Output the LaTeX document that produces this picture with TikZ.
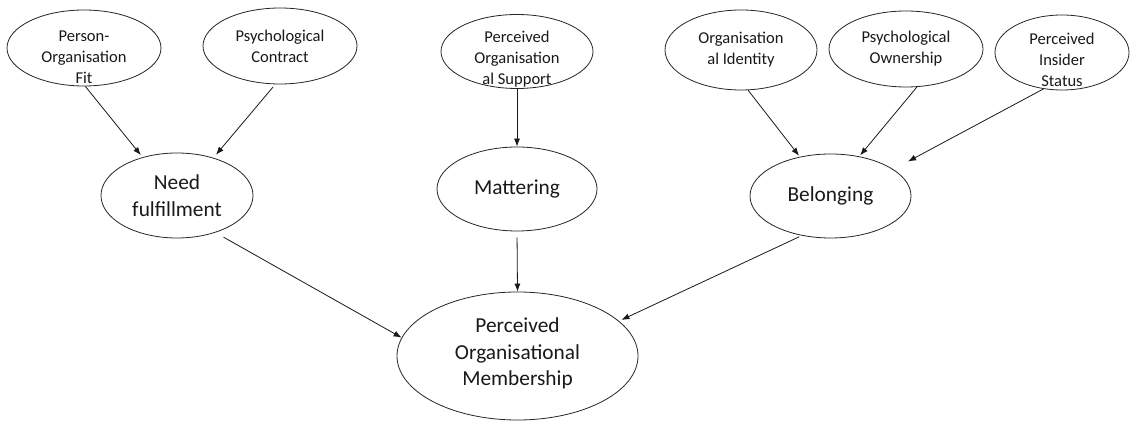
\documentclass[tikz,border=0pt]{standalone}
\usepackage{fontspec}
\setmainfont{Carlito}
\usetikzlibrary{arrows.meta,shapes.geometric}
\begin{document}
\begin{tikzpicture}[x=0.75pt,y=-0.75pt,
  oval/.style={draw=black!85, line width=0.6pt, ellipse, inner sep=0pt},
  radii/.style 2 args={minimum width=#1*1.5pt, minimum height=#2*1.5pt},
  smalltxt/.style={font=\fontsize{12.4}{15.75}\selectfont, align=center, inner sep=0pt, text=black!90},
  bigtxt/.style={font=\fontsize{16}{19.8}\selectfont, align=center, inner sep=0pt, text=black!90},
  arr/.style={draw=black!90, line width=0.6pt, -{Latex[length=6pt,width=4.5pt]}}]

\path[fill=white] (0,0) rectangle (1131,423);
\useasboundingbox (0,0) rectangle (1131,423);

% antecedents (top row)
\node[oval, radii={77}{38},   label={[smalltxt, yshift=-6.75pt]center:{Person-\\Organisation\\Fit}}] (pof) at (84,48) {};
\node[oval, radii={77}{38},   label={[smalltxt]center:{Psychological\\Contract}}] (pc) at (280,46) {};
\node[oval, radii={76}{37},   label={[smalltxt, yshift=-5.6pt]center:{Perceived\\Organisation\\al Support}}] (pos) at (517,51.5) {};
\node[oval, radii={76}{40},   label={[smalltxt]center:{Organisation\\al Identity}}] (oi) at (741,50) {};
\node[oval, radii={77}{38},   label={[smalltxt]center:{Psychological\\Ownership}}] (po) at (906,49) {};
\node[oval, radii={67}{37.5}, label={[smalltxt, yshift=-5.6pt]center:{Perceived\\Insider\\Status}}] (pis) at (1062,52.5) {};

% mediators (middle row)
\node[oval, radii={76}{42.5}, label={[bigtxt]center:{Need\\fulfillment}}] (need) at (177,195.5) {};
\node[oval, radii={80}{42},   label={[bigtxt]center:{Mattering}}] (mat) at (517,189) {};
\node[oval, radii={80.5}{42}, label={[bigtxt]center:{Belonging}}] (bel) at (830.5,196) {};

% outcome
\node[oval, radii={120.5}{64}, label={[bigtxt, yshift=2pt]center:{Perceived\\Organisational\\Membership}}] (mem) at (517.5,356) {};

% antecedents -> mediators
\draw[arr, shorten >=2pt] (pof.-88) -- (need.132);
\draw[arr, shorten <=2.5pt, shorten >=3pt] (pc.-97) -- (need.46);
\draw[arr] (pos.south) -- (mat.north);
\draw[arr, shorten >=1pt] (oi.-80) -- (bel.128);
\draw[arr, shorten >=1pt] (po.-74) -- (bel.54);
\draw[arr, shorten >=12.5pt] (pis.-117.5) -- (bel.23);

% mediators -> outcome
\draw[arr, shorten <=7pt] (need.-44) -- (mem.171);
\draw[arr, shorten <=4.5pt] (mat.south) -- (mem.north);
\draw[arr, shorten <=2pt, shorten >=2pt] (bel.-126.4) -- (mem.19);
\end{tikzpicture}
\end{document}
